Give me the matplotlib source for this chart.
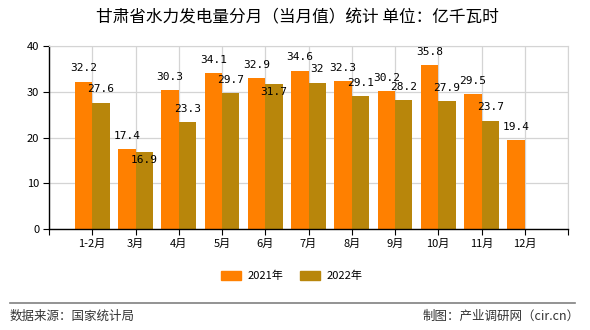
import matplotlib
matplotlib.use("Agg")
import matplotlib.pyplot as plt
import matplotlib.patches as mpatches
import numpy as np

plt.rcParams['font.family'] = ['Noto Sans CJK SC', 'DejaVu Sans']

months = ["1-2月", "3月", "4月", "5月", "6月", "7月", "8月", "9月", "10月", "11月", "12月"]
y2021 = [32.2, 17.4, 30.3, 34.1, 32.9, 34.6, 32.3, 30.2, 35.8, 29.5, 19.4]
y2022 = [27.6, 16.9, 23.3, 29.7, 31.7, 32, 29.1, 28.2, 27.9, 23.7, None]
series_names = ["2021年", "2022年"]
c_2021 = "#ff8000"
c_2022 = "#b8860b"
# 2022 labels that sit inside the bar top (they would hit the 2021 label)
label_inside = {1, 4}

fig = plt.figure(figsize=(5.9, 3.3), dpi=100)
ax = fig.add_axes([49 / 590, 1 - 229 / 330, 519 / 590, 183 / 330])

x = np.arange(len(months))
w = 0.4

for i, v in enumerate(y2021):
    ax.bar(x[i] - w / 2, v, w, color=c_2021, zorder=2)
    ax.annotate(f"{v:g}", (x[i] - w / 2, v), xytext=(0, 6), textcoords="offset points",
                ha="center", va="bottom", fontsize=8, family="DejaVu Sans Mono", zorder=4)
for i, v in enumerate(y2022):
    if v is None:
        continue
    ax.bar(x[i] + w / 2, v, w, color=c_2022, zorder=2)
    if i in label_inside:
        ax.annotate(f"{v:g}", (x[i] + w / 2, v), xytext=(0, -6), textcoords="offset points",
                    ha="center", va="center", fontsize=8, family="DejaVu Sans Mono", zorder=4)
    else:
        ax.annotate(f"{v:g}", (x[i] + w / 2, v), xytext=(0, 6), textcoords="offset points",
                    ha="center", va="bottom", fontsize=8, family="DejaVu Sans Mono", zorder=4)

ax.set_xlim(-1, len(months))
ax.set_ylim(0, 40)
ax.set_yticks([0, 10, 20, 30, 40])
ax.set_xticks(np.arange(-1, len(months) + 1))
ax.set_xticklabels([""] + months + [""])
ax.tick_params(axis="both", labelsize=8, length=4, width=0.8, color="black", pad=3)
ax.grid(True, color="#d4d4d4", linewidth=0.9, zorder=0)
ax.set_axisbelow(True)
for s in ["top", "right"]:
    ax.spines[s].set_color("#d4d4d4")
for s in ["left", "bottom"]:
    ax.spines[s].set_color("black")
    ax.spines[s].set_linewidth(1.0)

fig.text(0.504, 0.945, "甘肃省水力发电量分月（当月值）统计 单位：亿千瓦时",
         ha="center", va="center", fontsize=12)

handles = [mpatches.Patch(color=c_2021, label=series_names[0]),
           mpatches.Patch(color=c_2022, label=series_names[1])]
fig.legend(handles=handles, loc="center", bbox_to_anchor=(0.495, 1 - 276 / 330), ncol=2,
           frameon=False, fontsize=8, handlelength=1.8, handleheight=0.8,
           handletextpad=0.6, columnspacing=1.5)

fig.add_artist(plt.Line2D([10 / 590, 575 / 590], [1 - 303 / 330, 1 - 303 / 330],
                          color="#808080", linewidth=1.2))
fig.text(10 / 590, 1 - 316 / 330, "数据来源：国家统计局", ha="left", va="center", fontsize=9, color="#333333")
fig.text(580 / 590, 1 - 316 / 330, "制图：产业调研网（cir.cn）", ha="right", va="center", fontsize=9, color="#333333")

fig.savefig("out.png", dpi=100)
